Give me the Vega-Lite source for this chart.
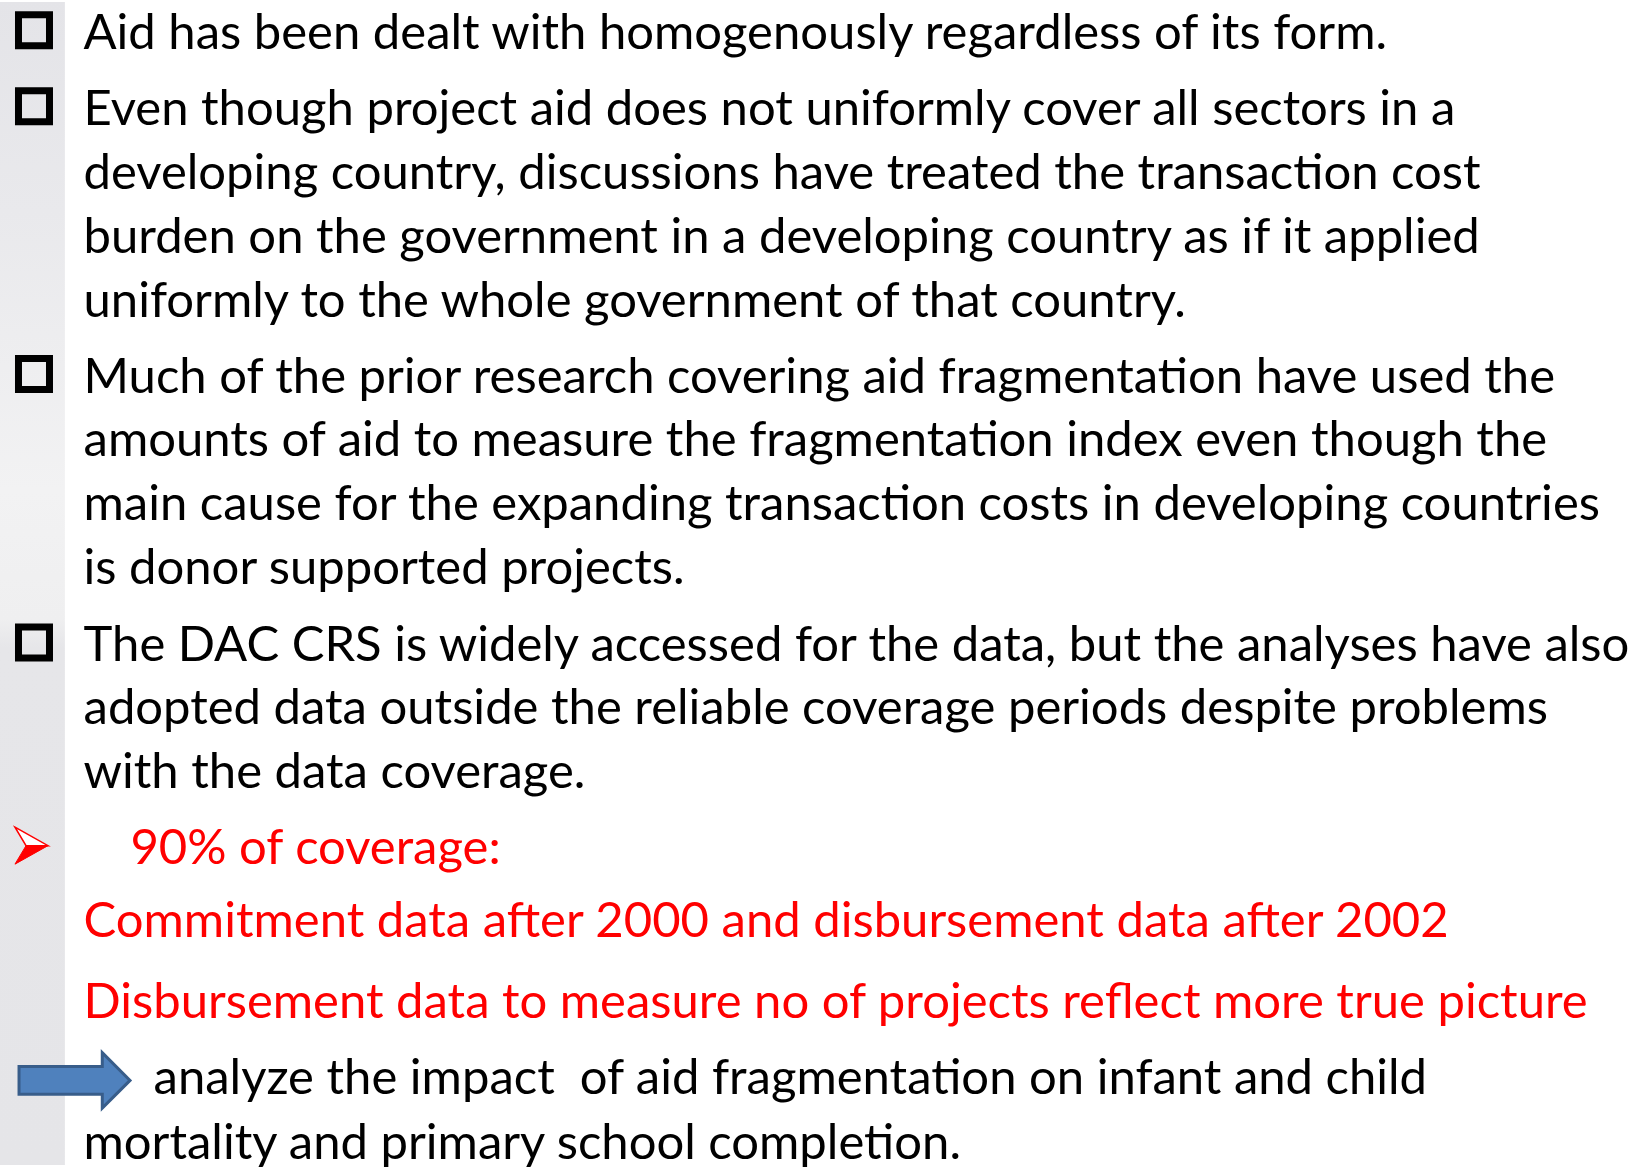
{
  "$schema": "https://vega.github.io/schema/vega-lite/v6.json",
  "width": 1638,
  "height": 1169,
  "autosize": {"type": "fit", "contains": "padding"},
  "padding": 0,
  "background": "white",
  "config": {"view": {"stroke": null}, "axis": {"disable": true}},
  "datasets": {
    "lines": [
      {"line": 1, "row": 0.73, "kind": "body", "marker": "box", "text": "Aid has been dealt with homogenously regardless of its form."},
      {"line": 2, "row": 1.92, "kind": "body", "marker": "box", "text": "Even though project aid does not uniformly cover all sectors in a"},
      {"line": 3, "row": 2.93, "kind": "body", "marker": "", "text": "developing country, discussions have treated the transaction cost"},
      {"line": 4, "row": 3.92, "kind": "body", "marker": "", "text": "burden on the government in a developing country as if it applied"},
      {"line": 5, "row": 4.93, "kind": "body", "marker": "", "text": "uniformly to the whole government of that country."},
      {"line": 6, "row": 6.11, "kind": "body", "marker": "box", "text": "Much of the prior research covering aid fragmentation have used the"},
      {"line": 7, "row": 7.11, "kind": "body", "marker": "", "text": "amounts of aid to measure the fragmentation index even though the"},
      {"line": 8, "row": 8.11, "kind": "body", "marker": "", "text": "main cause for the expanding transaction costs in developing countries"},
      {"line": 9, "row": 9.10, "kind": "body", "marker": "", "text": "is donor supported projects."},
      {"line": 10, "row": 10.31, "kind": "body", "marker": "box", "text": "The DAC CRS is widely accessed for the data, but the analyses have also"},
      {"line": 11, "row": 11.30, "kind": "body", "marker": "", "text": "adopted data outside the reliable coverage periods despite problems"},
      {"line": 12, "row": 12.29, "kind": "body", "marker": "", "text": "with the data coverage."},
      {"line": 13, "row": 13.48, "kind": "redhead", "marker": "pointer", "text": "90% of coverage:"},
      {"line": 14, "row": 14.63, "kind": "red", "marker": "", "text": "Commitment data after 2000 and disbursement data after 2002"},
      {"line": 15, "row": 15.90, "kind": "red", "marker": "", "text": "Disbursement data to measure no of projects reflect more true picture"},
      {"line": 16, "row": 17.09, "kind": "lead", "marker": "arrow", "text": "analyze the impact \u00a0of aid fragmentation on infant and child"},
      {"line": 17, "row": 18.10, "kind": "body", "marker": "", "text": "mortality and primary school completion."}
    ]
  },
  "layer": [
    {
      "data": {"values": [{"part": "strip"}]},
      "mark": {
        "type": "rect",
        "color": {
          "gradient": "linear", "x1": 0, "y1": 0, "x2": 0, "y2": 1,
          "stops": [
            {"offset": 0, "color": "#e4e4e8"},
            {"offset": 0.18, "color": "#e9e9ec"},
            {"offset": 0.42, "color": "#f2f2f3"},
            {"offset": 0.53, "color": "#efeff0"},
            {"offset": 0.555, "color": "#e6e6e9"},
            {"offset": 1, "color": "#e5e5e8"}
          ]
        }
      },
      "encoding": {
        "x": {"datum": 0, "type": "quantitative", "scale": {"domain": [0, 25.494], "nice": false, "zero": false}},
        "x2": {"datum": 1.01},
        "y": {"datum": 0, "type": "quantitative", "scale": {"domain": [0, 18.194], "nice": false, "zero": false, "reverse": true}},
        "y2": {"datum": 18.194}
      }
    },
    {
      "data": {"name": "lines"},
      "transform": [{"filter": "datum.kind == 'body'"}],
      "mark": {"type": "text", "align": "left", "baseline": "alphabetic", "font": "Lato", "fontSize": 49, "color": "#000000"},
      "encoding": {
        "x": {"datum": 1.30, "type": "quantitative"},
        "y": {"field": "row", "type": "quantitative"},
        "text": {"field": "text"}
      }
    },
    {
      "data": {"name": "lines"},
      "transform": [{"filter": "datum.kind == 'red'"}],
      "mark": {"type": "text", "align": "left", "baseline": "alphabetic", "font": "Lato", "fontSize": 49, "color": "#ff0000"},
      "encoding": {
        "x": {"datum": 1.30, "type": "quantitative"},
        "y": {"field": "row", "type": "quantitative"},
        "text": {"field": "text"}
      }
    },
    {
      "data": {"name": "lines"},
      "transform": [{"filter": "datum.kind == 'redhead'"}],
      "mark": {"type": "text", "align": "left", "baseline": "alphabetic", "font": "Lato", "fontSize": 49, "color": "#ff0000"},
      "encoding": {
        "x": {"datum": 2.03, "type": "quantitative"},
        "y": {"field": "row", "type": "quantitative"},
        "text": {"field": "text"}
      }
    },
    {
      "data": {"name": "lines"},
      "transform": [{"filter": "datum.kind == 'lead'"}],
      "mark": {"type": "text", "align": "left", "baseline": "alphabetic", "font": "Lato", "fontSize": 49, "color": "#000000"},
      "encoding": {
        "x": {"datum": 2.39, "type": "quantitative"},
        "y": {"field": "row", "type": "quantitative"},
        "text": {"field": "text"}
      }
    },
    {
      "data": {"name": "lines"},
      "transform": [{"filter": "datum.marker == 'box'"}],
      "mark": {"type": "point", "shape": "square", "filled": false, "stroke": "#000000", "strokeWidth": 7, "size": 961, "opacity": 1, "yOffset": -18.5},
      "encoding": {
        "x": {"datum": 0.529, "type": "quantitative"},
        "y": {"field": "row", "type": "quantitative"}
      }
    },
    {
      "data": {"name": "lines"},
      "transform": [{"filter": "datum.marker == 'pointer'"}],
      "mark": {"type": "point", "shape": "M-1,-1.12 L1,0 L-0.33,0 Z", "filled": true, "fill": "#ffffff", "stroke": "#ff0000", "strokeWidth": 1.5, "size": 1089, "opacity": 1, "yOffset": -18},
      "encoding": {
        "x": {"datum": 0.49, "type": "quantitative"},
        "y": {"field": "row", "type": "quantitative"}
      }
    },
    {
      "data": {"name": "lines"},
      "transform": [{"filter": "datum.marker == 'pointer'"}],
      "mark": {"type": "point", "shape": "M-0.33,0 L1,0 L-1,1.12 Z", "filled": true, "fill": "#ff0000", "stroke": "#ff0000", "strokeWidth": 1, "size": 1089, "opacity": 1, "yOffset": -18},
      "encoding": {
        "x": {"datum": 0.49, "type": "quantitative"},
        "y": {"field": "row", "type": "quantitative"}
      }
    },
    {
      "data": {"name": "lines"},
      "transform": [{"filter": "datum.marker == 'arrow'"}],
      "mark": {"type": "point", "shape": "M-1,-0.25 L0.5,-0.25 L0.5,-0.5 L1,0 L0.5,0.5 L0.5,0.25 L-1,0.25 Z", "filled": true, "fill": "#4f81bd", "stroke": "#385d8a", "strokeWidth": 3, "size": 12321, "opacity": 1, "yOffset": -14},
      "encoding": {
        "x": {"datum": 1.16, "type": "quantitative"},
        "y": {"field": "row", "type": "quantitative"}
      }
    }
  ]
}
